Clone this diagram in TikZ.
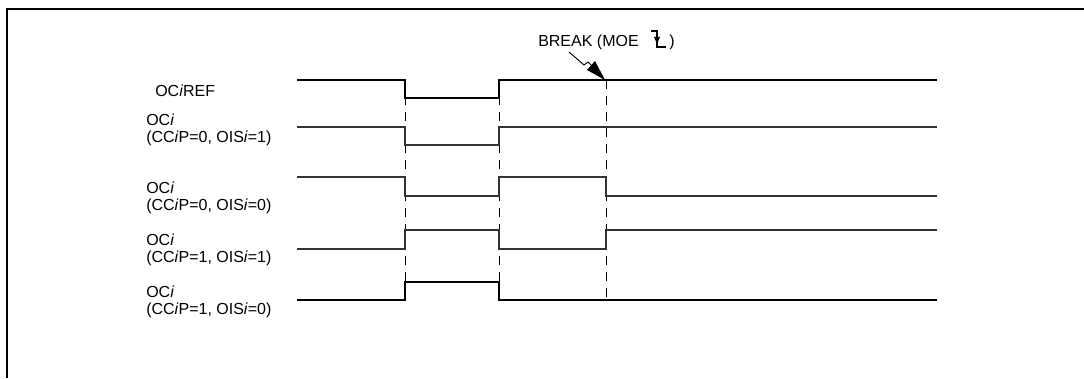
\documentclass[tikz,border=0pt]{standalone}
\usepackage{fontspec}
\setmainfont{Liberation Sans}
\usetikzlibrary{arrows.meta}

\begin{document}
\begin{tikzpicture}[x=0.75pt, y=-0.75pt,
    every node/.style={inner sep=0pt, font=\fontsize{12}{12.75}\selectfont},
    wave/.style={line width=0.8pt, black!80},
    guide/.style={dash pattern=on 7pt off 5pt, line width=0.7pt}]
  \useasboundingbox (0,0) rectangle (1084,378);
  % Rahmen
  \draw[line width=2.2pt] (1084,9) -- (7,9) -- (7,378);
  % Signalnamen
  \node[anchor=west] (ref) at (155,91) {OC\textit{i}REF};
  \node[anchor=west, align=left] (oca) at (146,129.5) {OC\textit{i}\\(CC\textit{i}P=0, OIS\textit{i}=1)};
  \node[anchor=west, align=left] (ocb) at (146,197.5) {OC\textit{i}\\(CC\textit{i}P=0, OIS\textit{i}=0)};
  \node[anchor=west, align=left] (occ) at (146,250) {OC\textit{i}\\(CC\textit{i}P=1, OIS\textit{i}=1)};
  \node[anchor=west, align=left] (ocd) at (146,301.5) {OC\textit{i}\\(CC\textit{i}P=1, OIS\textit{i}=0)};
  % Hilfslinien bei den Flanken
  \foreach \t in {405,499,606}
    \draw[guide] (\t,80) -- (\t,300);
  % OCiREF
  \draw[wave, black] (297,80) -- (405,80) -- (405,98) -- (499,98) -- (499,80) -- (937,80);
  % OCi, CCiP=0, OISi=1
  \draw[wave] (297,127) -- (405,127) -- (405,145) -- (499,145) -- (499,127) -- (937,127);
  % OCi, CCiP=0, OISi=0
  \draw[wave] (297,177) -- (405,177) -- (405,196) -- (499,196) -- (499,177) -- (606,177) -- (606,196) -- (937,196);
  % OCi, CCiP=1, OISi=1
  \draw[wave] (297,249) -- (405,249) -- (405,230) -- (499,230) -- (499,249) -- (606,249) -- (606,230) -- (937,230);
  % OCi, CCiP=1, OISi=0
  \draw[wave, black] (297,300) -- (405,300) -- (405,282) -- (499,282) -- (499,300) -- (937,300);
  % Break-Ereignis
  \node[anchor=west] (brk) at (538,42) {BREAK (MOE};
  \node[anchor=west] (brkend) at (669,42) {)};
  \draw[line width=0.8pt] (651,31) -- (657,31) -- (657,47) -- (666,47);
  \fill (654,37) -- (660,37) -- (657,44) -- cycle;
  \coordinate (brkpt) at (605,80);
  \draw[line width=0.7pt] (569,52) -- (584,65) -- (588,62) -- (592,66);
  \fill (brkpt) -- (587,70) -- (595,61) -- cycle;
\end{tikzpicture}
\end{document}
